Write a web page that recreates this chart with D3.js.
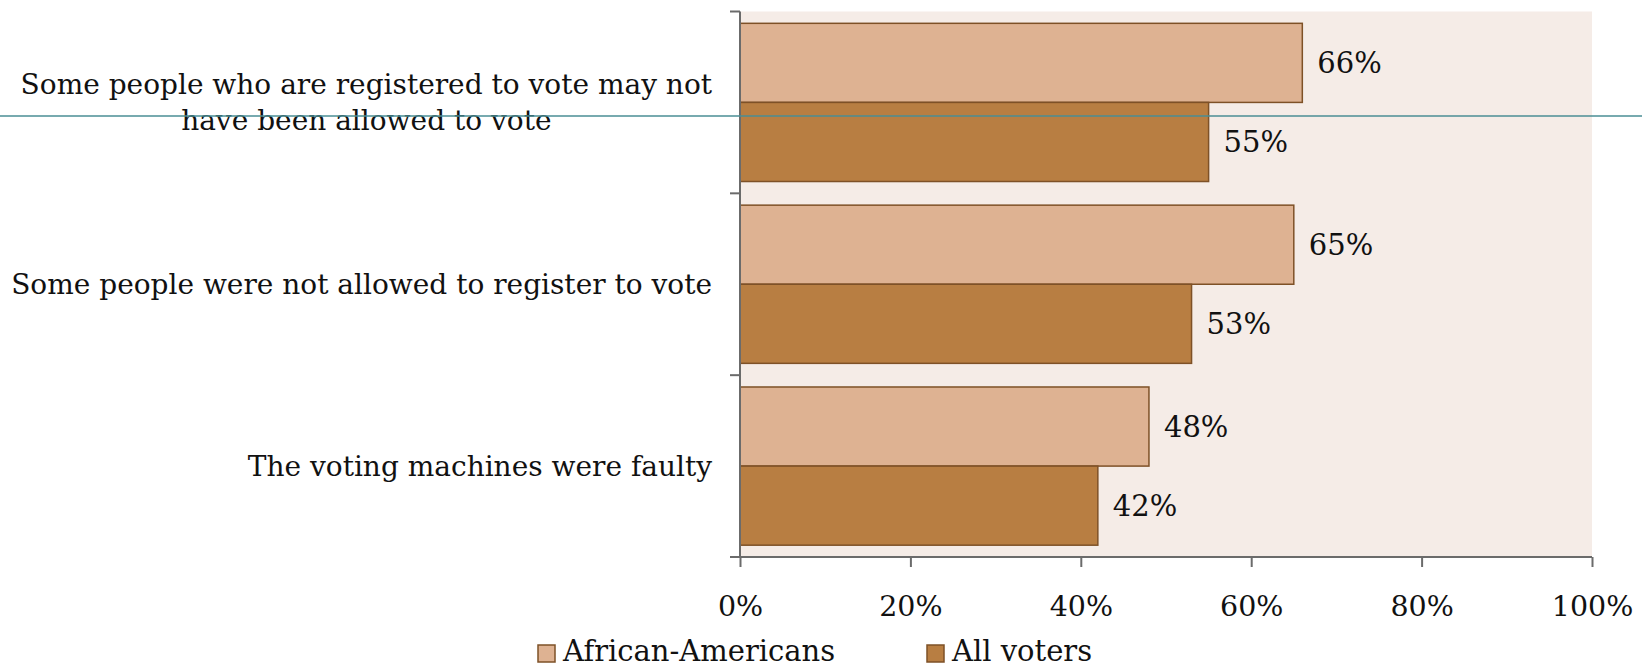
<!DOCTYPE html>
<html><head><meta charset="utf-8">
<script src="https://cdn.jsdelivr.net/npm/d3@7"></script>
<style>body{margin:0;background:#fff}svg{display:block}text{font-family:"DejaVu Serif",serif;fill:#111}</style>
</head><body>
<script>
const categories = [
  ["Some people who are registered to vote may not", "have been allowed to vote"],
  ["Some people were not allowed to register to vote"],
  ["The voting machines were faulty"]
];
const seriesNames = ["African-Americans", "All voters"];
const africanAmericans = [66, 65, 48];
const allVoters = [55, 53, 42];
const xTicks = [0, 20, 40, 60, 80, 100];
const colors = ["#DEB292", "#B87E42"];

const W = 1642, H = 667;
const m = {left: 740, right: 1592, top: 11.5, bottom: 557};
const svg = d3.select("body").append("svg").attr("width", W).attr("height", H);

const x = d3.scaleLinear().domain([0, 100]).range([m.left, m.right]);
const y = d3.scaleBand().domain(d3.range(categories.length)).range([m.top, m.bottom]).paddingInner(0.13).paddingOuter(0.065);
const y0 = d3.scaleBand().domain([0, 1]).range([0, y.bandwidth()]);
const yb = d3.scaleBand().domain(d3.range(categories.length)).range([m.top, m.bottom]);

svg.append("rect").attr("x", m.left).attr("y", m.top).attr("width", m.right - m.left).attr("height", m.bottom - m.top).attr("fill", "#F5ECE7");

const series = [africanAmericans, allVoters];
series.forEach((vals, s) => {
  const g = svg.append("g");
  g.selectAll("rect").data(vals).join("rect")
    .attr("x", x(0)).attr("y", (d, i) => y(i) + y0(s))
    .attr("width", d => x(d) - x(0)).attr("height", y0.bandwidth())
    .attr("fill", colors[s]).attr("stroke", "#7E5127").attr("stroke-width", 1.5);
  g.selectAll("text").data(vals).join("text")
    .attr("x", d => x(d) + 15).attr("y", (d, i) => y(i) + y0(s) + y0.bandwidth() / 2)
    .attr("dy", "0.35em").attr("font-size", 29).text(d => d + "%");
});

// y axis
const yAxisG = svg.append("g").attr("transform", `translate(${m.left},0)`);
yAxisG.append("line").attr("x1", 0).attr("x2", 0).attr("y1", m.top).attr("y2", m.bottom).attr("stroke", "#6b6b6b").attr("stroke-width", 2);
const bounds = d3.range(categories.length + 1).map(i => i < categories.length ? yb(i) : m.bottom);
yAxisG.selectAll("line.t").data(bounds).join("line").attr("class", "t")
  .attr("x1", -10).attr("x2", 0).attr("y1", d => d).attr("y2", d => d).attr("stroke", "#6b6b6b").attr("stroke-width", 2);

// category labels (block right-aligned, lines centred within block)
categories.forEach((lines, i) => {
  const cy = yb(i) + yb.bandwidth() / 2;
  const t = svg.append("text").attr("text-anchor", "middle").attr("font-size", 28);
  const spans = lines.map((ln, j) =>
    t.append("tspan").attr("y", cy + (j - (lines.length - 1) / 2) * 36).attr("dy", "0.35em").text(ln));
  const maxW = d3.max(spans, sp => sp.node().getComputedTextLength());
  spans.forEach(sp => sp.attr("x", 712 - maxW / 2));
});

// x axis
const xAxis = d3.axisBottom(x).tickValues(xTicks).tickFormat(d => d + "%").tickSize(10).tickSizeOuter(0).tickPadding(29);
const xg = svg.append("g").attr("transform", `translate(0,${m.bottom})`).call(xAxis);
xg.select(".domain").attr("stroke", "#6b6b6b").attr("stroke-width", 2).attr("d", `M${m.left - 10},0H${m.right}`);
xg.selectAll(".tick line").attr("stroke", "#6b6b6b").attr("stroke-width", 2);
xg.selectAll(".tick text").attr("font-family", "DejaVu Serif").attr("font-size", 28.5).attr("fill", "#111");

// legend
const legendX = [538, 927];
seriesNames.forEach((n, s) => {
  svg.append("rect").attr("x", legendX[s]).attr("y", 645).attr("width", 17).attr("height", 17)
    .attr("fill", colors[s]).attr("stroke", "#7E5127").attr("stroke-width", 1.5);
  svg.append("text").attr("x", legendX[s] + 25).attr("y", 661).attr("font-size", 29).text(n);
});

// teal guide line
svg.append("line").attr("x1", 0).attr("x2", W).attr("y1", 116).attr("y2", 116).attr("stroke", "#4A8E94").attr("stroke-width", 1.3);
</script>
</body></html>
